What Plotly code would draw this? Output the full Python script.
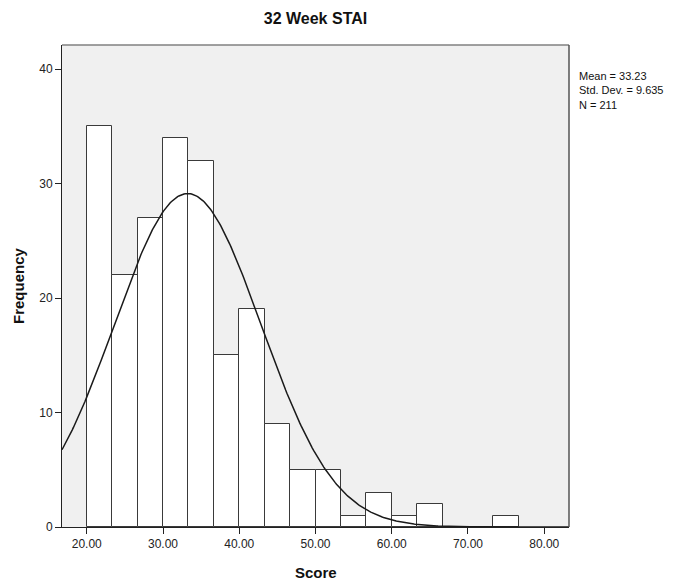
import numpy as np
import plotly.graph_objects as go

# Data
bin_start = 20.0
bin_width = 10.0 / 3.0
counts = [35, 22, 27, 34, 32, 15, 19, 9, 5, 5, 1, 3, 1, 2, 0, 0, 1]
mean_val = 33.23
sd_val = 9.635
n_val = 211
x_tick_vals = [20, 30, 40, 50, 60, 70, 80]
x_tick_text = ["20.00", "30.00", "40.00", "50.00", "60.00", "70.00", "80.00"]
y_tick_vals = [0, 10, 20, 30, 40]

centers = [bin_start + bin_width * (i + 0.5) for i in range(len(counts))]

x_range = [16.75, 83.25]
y_range = [0, 42.1]

W, H = 683, 583
L, R, T, B = 62, 114, 45, 56
pw, ph = W - L - R, H - T - B

fig = go.Figure()
fig.add_trace(go.Bar(
    x=centers, y=counts, width=bin_width,
    marker=dict(color="white", line=dict(color="#3a3a3a", width=1)),
    hoverinfo="x+y", showlegend=False,
))

xs = np.linspace(x_range[0], x_range[1], 400)
ys = n_val * bin_width / (sd_val * np.sqrt(2 * np.pi)) * np.exp(-0.5 * ((xs - mean_val) / sd_val) ** 2)
fig.add_trace(go.Scatter(x=xs, y=ys, mode="lines",
                         line=dict(color="#1a1a1a", width=1.5), showlegend=False))

fig.update_layout(
    width=W, height=H,
    margin=dict(l=L, r=R, t=T, b=B),
    paper_bgcolor="white", plot_bgcolor="#f0f0f0",
    bargap=0,
    font=dict(family="Arial, Liberation Sans, sans-serif", color="#222", size=12),
    title=dict(text="<b>32 Week STAI</b>", x=315.5 / W, xanchor="center",
               y=1 - 18 / H, yanchor="middle", font=dict(size=16, color="#111")),
    xaxis=dict(range=x_range, tickvals=x_tick_vals, ticktext=x_tick_text, automargin=False,
               showgrid=False, zeroline=False, showline=True, linecolor="#222", linewidth=1,
               ticks="outside", ticklen=6, tickcolor="#222"),
    yaxis=dict(range=y_range, tickvals=y_tick_vals, automargin=False,
               showgrid=False, zeroline=False, showline=True, linecolor="#222", linewidth=1,
               ticks="outside", ticklen=6, tickcolor="#222"),
    shapes=[
        dict(type="line", xref="paper", yref="paper", x0=0, x1=1, y0=1, y1=1,
             line=dict(color="#808080", width=1.5)),
        dict(type="line", xref="paper", yref="paper", x0=1, x1=1, y0=0, y1=1,
             line=dict(color="#555555", width=1.5)),
    ],
    annotations=[
        dict(text=f"Mean = {mean_val:.2f}<br>Std. Dev. = {sd_val}<br>N = {n_val}",
             xref="paper", yref="paper", x=1.015, y=(42.1 - 2.0) / 42.1,
             xanchor="left", yanchor="top", align="left", showarrow=False,
             font=dict(size=11, color="#111")),
        dict(text="<b>Score</b>", xref="paper", yref="paper",
             x=0.5, y=-(572 - (T + ph)) / ph, xanchor="center", yanchor="middle",
             showarrow=False, font=dict(size=15, color="#111")),
        dict(text="<b>Frequency</b>", xref="paper", yref="paper",
             x=-(L - 18) / pw, y=0.5, xanchor="center", yanchor="middle", textangle=-90,
             showarrow=False, font=dict(size=15, color="#111")),
    ],
)

fig.write_html("out.html")
